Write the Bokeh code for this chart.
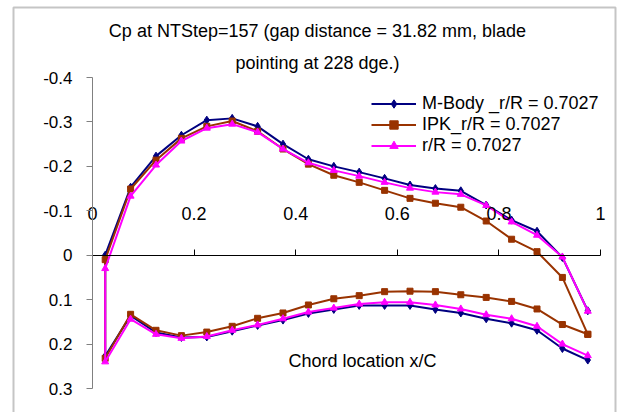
from bokeh.plotting import figure
from bokeh.models import Range1d, LinearAxis, FixedTicker, Label, BoxAnnotation
from bokeh.embed import file_html
from bokeh.resources import INLINE

# ---------------- data ----------------
chord = [0.025, 0.075, 0.125, 0.175, 0.225, 0.275, 0.325, 0.375, 0.425, 0.475,
         0.525, 0.575, 0.625, 0.675, 0.725, 0.775, 0.825, 0.875, 0.925, 0.975]

mbody_upper = [0.000, -0.153, -0.223, -0.270, -0.304, -0.308, -0.290, -0.250, -0.216, -0.200,
               -0.187, -0.173, -0.158, -0.150, -0.145, -0.113, -0.079, -0.054, 0.005, 0.125]
mbody_lower = [0.227, 0.136, 0.174, 0.185, 0.184, 0.171, 0.158, 0.146, 0.131, 0.122,
               0.113, 0.113, 0.113, 0.122, 0.130, 0.143, 0.153, 0.169, 0.210, 0.236]

ipk_upper = [0.010, -0.149, -0.214, -0.263, -0.290, -0.302, -0.279, -0.239, -0.205, -0.180,
             -0.164, -0.146, -0.128, -0.117, -0.108, -0.077, -0.036, -0.008, 0.050, 0.178]
ipk_lower = [0.232, 0.133, 0.169, 0.181, 0.173, 0.160, 0.142, 0.130, 0.112, 0.098,
             0.091, 0.082, 0.081, 0.082, 0.089, 0.095, 0.104, 0.121, 0.156, 0.178]

rr_upper = [0.030, -0.133, -0.203, -0.257, -0.286, -0.295, -0.277, -0.239, -0.208, -0.191,
            -0.178, -0.164, -0.151, -0.142, -0.137, -0.112, -0.075, -0.045, 0.004, 0.126]
rr_lower = [0.240, 0.144, 0.178, 0.187, 0.183, 0.169, 0.157, 0.143, 0.128, 0.119,
            0.110, 0.106, 0.106, 0.112, 0.121, 0.134, 0.143, 0.160, 0.200, 0.226]

series_names = ["M-Body _r/R = 0.7027", "IPK_r/R = 0.7027", "r/R = 0.7027"]

x_ticks = [0, 0.2, 0.4, 0.6, 0.8, 1]
x_tick_labels = ["0", "0.2", "0.4", "0.6", "0.8", "1"]
y_ticks = [-0.4, -0.3, -0.2, -0.1, 0, 0.1, 0.2, 0.3]
y_tick_labels = ["-0.4", "-0.3", "-0.2", "-0.1", "0", "0.1", "0.2", "0.3"]

title_lines = ["Cp at NTStep=157 (gap distance = 31.82 mm, blade", "pointing at 228 dge.)"]
x_title = "Chord location x/C"

# ---------------- layout ----------------
W, H = 622, 412
PX0, PX1 = 92, 600          # pixel of x=0 and x=1
PY_TOP, PY_BOT = 77, 388    # pixel of y=-0.4 and y=0.3
sx = (PX1 - PX0) / 1.0
sy = (PY_BOT - PY_TOP) / 0.7
x_start = -PX0 / sx
x_end = x_start + W / sx
y_top = -0.4 - PY_TOP / sy
y_bot = y_top + H / sy

def xd(px):
    return (px - PX0) / sx

def yd(py):
    return -0.4 + (py - PY_TOP) / sy

FONT = "Liberation Sans"

p = figure(width=W, height=H, output_backend="svg", toolbar_location=None,
           x_range=Range1d(x_start, x_end), y_range=Range1d(y_bot, y_top),
           x_axis_type=None, y_axis_type=None,
           min_border=0, min_border_left=0, min_border_right=0,
           min_border_top=0, min_border_bottom=0)
p.grid.visible = False
p.outline_line_color = None
p.background_fill_color = "white"
p.border_fill_color = "white"

# y axis at x = 0
yax = LinearAxis(fixed_location=0, ticker=FixedTicker(ticks=y_ticks), bounds=(-0.4, 0.3))
yax.major_label_overrides = dict(zip(y_ticks, y_tick_labels))
yax.axis_line_color = "#808080"
yax.axis_line_width = 1
yax.major_tick_line_color = "#808080"
yax.major_tick_out = 6
yax.major_tick_in = 0
yax.minor_tick_line_color = None
yax.major_label_standoff = 14
yax.major_label_text_font = FONT
yax.major_label_text_font_size = "17px"
yax.major_label_text_color = "black"
p.add_layout(yax, "left")

# x axis at y = 0
xax = LinearAxis(fixed_location=0, ticker=FixedTicker(ticks=x_ticks), bounds=(0, 1))
xax.major_label_overrides = dict(zip(x_ticks, x_tick_labels))
xax.axis_line_color = "black"
xax.axis_line_width = 1
xax.major_tick_line_color = "black"
xax.major_tick_out = 6
xax.major_tick_in = 0
xax.minor_tick_line_color = None
xax.major_label_standoff = 29
xax.major_label_text_font = FONT
xax.major_label_text_font_size = "18px"
xax.major_label_text_color = "black"
p.add_layout(xax, "above")

# series
series = [
    (mbody_upper, mbody_lower, "#000080", "diamond", 8),
    (ipk_upper, ipk_lower, "#993300", "square", 6),
    (rr_upper, rr_lower, "#FF00FF", "triangle", 7),
]
for (up, lo, col, mk, sz), name in zip(series, series_names):
    xs = chord[::-1] + chord
    ys = up[::-1] + lo
    p.line(xs, ys, line_color=col, line_width=2, legend_label=name)
    p.scatter(xs, ys, marker=mk, size=sz, fill_color=col, line_color=col, legend_label=name)

leg = p.legend[0]
leg.location = (371, 256)
leg.padding = 0
leg.margin = 0
leg.spacing = 0
leg.border_line_color = None
leg.background_fill_alpha = 0
leg.glyph_width = 45
leg.glyph_height = 21
leg.label_height = 21
leg.label_standoff = 6
leg.label_text_font = FONT
leg.label_text_font_size = "18px"
leg.label_text_color = "black"

# titles
for i, (txt, cy) in enumerate(zip(title_lines, [30, 62])):
    p.add_layout(Label(x=317, y=H - cy, x_units="screen", y_units="screen", text=txt,
                       text_align="center", text_baseline="middle",
                       text_font=FONT, text_font_size="18px", text_color="black"))
p.add_layout(Label(x=362, y=H - 360, x_units="screen", y_units="screen", text=x_title,
                   text_align="center", text_baseline="middle",
                   text_font=FONT, text_font_size="18px", text_color="black"))

# chart border
p.add_layout(BoxAnnotation(left=xd(13), right=xd(615), top=yd(7), bottom=yd(600),
                           fill_alpha=0, line_color="#404040", line_width=2))

open("out.html", "w").write(file_html(p, INLINE))
